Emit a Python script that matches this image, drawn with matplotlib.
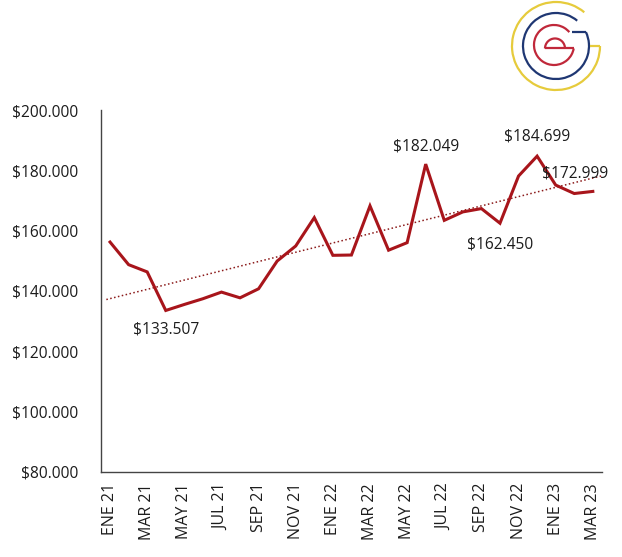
import numpy as np
import matplotlib
matplotlib.use('Agg')
import matplotlib.pyplot as plt
import matplotlib.ticker as ticker
from matplotlib.patches import Arc

plt.rcParams['font.family'] = ['Open Sans', 'DejaVu Sans']

months = ['ENE 21', 'FEB 21', 'MAR 21', 'ABR 21', 'MAY 21', 'JUN 21', 'JUL 21', 'AGO 21',
          'SEP 21', 'OCT 21', 'NOV 21', 'DIC 21', 'ENE 22', 'FEB 22', 'MAR 22', 'ABR 22',
          'MAY 22', 'JUN 22', 'JUL 22', 'AGO 22', 'SEP 22', 'OCT 22', 'NOV 22', 'DIC 22',
          'ENE 23', 'FEB 23', 'MAR 23']
values = [156200, 148700, 146300, 133507, 135500, 137400, 139600, 137700,
          140700, 149900, 154900, 164300, 151800, 151900, 168200, 153500,
          156000, 182049, 163400, 166200, 167300, 162450, 178100, 184699,
          175100, 172300, 172999]
labeled = [3, 17, 21, 23, 26]
# label offsets in points (dx, dy)
label_offsets = {3: (0, -14), 17: (0, 13), 21: (0, -15), 23: (0, 14), 26: (-13, 13)}

LINE = '#A8151B'
TREND = '#8B1A1A'
TXT = '#1c1c1c'


def money(v, pos=None):
    return '$' + f'{v:,.0f}'.replace(',', '.')


fig = plt.figure(figsize=(6.22, 5.57), dpi=100)
ax = fig.add_axes([0.162, 0.153, 0.806, 0.6495])

x = np.arange(len(values))
ax.plot(x, values, color=LINE, lw=2.2, solid_joinstyle='miter', zorder=3)

# linear trend
k, b = np.polyfit(x, values, 1)
xt = np.array([-0.2, len(values) - 0.2])
ax.plot(xt, k * xt + b, color=TREND, lw=1.1, ls=(0, (1, 1.6)), zorder=2)

for i in labeled:
    dx, dy = label_offsets[i]
    ax.annotate(money(values[i]), xy=(i, values[i]), xytext=(dx, dy),
                textcoords='offset points', ha='center', va='center',
                fontsize=11.2, color=TXT, zorder=4)

ax.set_xlim(-0.5, len(values) - 0.5)
ax.set_ylim(80000, 200000)
ax.yaxis.set_major_locator(ticker.MultipleLocator(20000))
ax.yaxis.set_major_formatter(ticker.FuncFormatter(money))
ax.set_xticks(x[::2])
ax.set_xticklabels(months[::2], rotation=90)

for s in ['top', 'right']:
    ax.spines[s].set_visible(False)
for s in ['left', 'bottom']:
    ax.spines[s].set_color('#444444')
    ax.spines[s].set_linewidth(1.0)
ax.tick_params(axis='y', length=0, pad=16, labelsize=11.2, labelcolor=TXT)
ax.tick_params(axis='x', length=0, pad=8, labelsize=11.5, labelcolor=TXT)

# logo, drawn in figure pixel space (y down)
lg = fig.add_axes([0, 0, 1, 1], zorder=5)
lg.set_xlim(0, 622)
lg.set_ylim(557, 0)
lg.axis('off')
lg.patch.set_alpha(0)


def arc(cx, cy, r, a1, a2, color):
    # a1 -> a2 counter-clockwise as seen on screen
    lg.add_patch(Arc((cx, cy), 2 * r, 2 * r, theta1=-a2, theta2=-a1,
                     color=color, lw=1.6))


def pt(cx, cy, r, a):
    return cx + r * np.cos(np.radians(a)), cy - r * np.sin(np.radians(a))


def bar(x0, x1, y, color):
    lg.plot([x0, x1], [y, y], color=color, lw=1.6, solid_capstyle='butt')


YEL, BLU, RED = '#E6CB3C', '#1F3773', '#C0283A'
arc(556, 46, 44, 50, 360, YEL)
ex, ey = pt(556, 46, 44, 360)
bar(ex, 590, ey, YEL)

arc(556, 46, 33, 50, 385, BLU)
ex, ey = pt(556, 46, 33, 385)
bar(ex, 572, ey, BLU)

arc(554, 45, 20, 40, 350, RED)
ex, ey = pt(554, 45, 20, 350)
bar(ex, 545, ey, RED)
arc(555, ey, 10, 0, 180, RED)

fig.savefig('out.png', dpi=100)
